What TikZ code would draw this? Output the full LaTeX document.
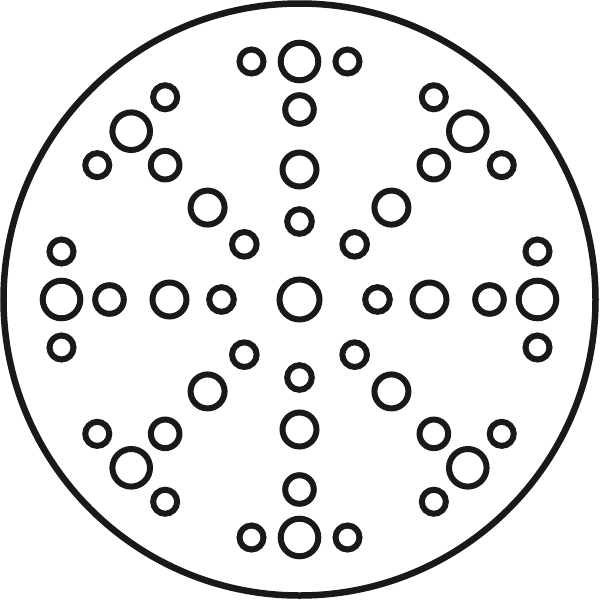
\documentclass[tikz,border=0pt]{standalone}
\begin{document}
\begin{tikzpicture}[x=1pt,y=-1pt,
  hole/.style={draw=black!90,line width=6pt,fill=none},
  rim/.style={draw=black!90,line width=6.5pt,fill=none}]
\useasboundingbox (0,0) rectangle (600,600);
\coordinate (c) at (299.5,299.5);
\draw[rim] (c) circle[radius=296];
\draw[hole] (c) circle[radius=20];
\foreach \a in {0,45,...,315}{
  \begin{scope}[shift={(c)},rotate=\a]
    \draw[hole] (78,0) circle[radius=12.3];
    \draw[hole] (130,0) circle[radius=17];
    \draw[hole] (190,0) circle[radius=14.3];
    \draw[hole] (238,0) circle[radius=18.8];
    \draw[hole] (238,48) circle[radius=12];
    \draw[hole] (238,-48) circle[radius=12];
  \end{scope}
}
\end{tikzpicture}
\end{document}
